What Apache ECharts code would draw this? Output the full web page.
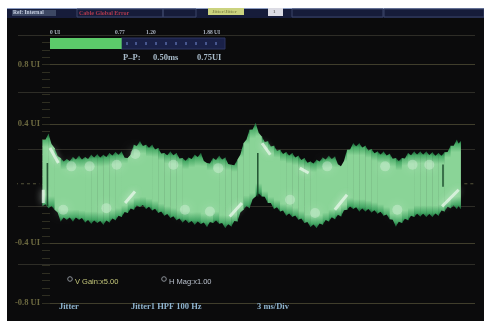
<!DOCTYPE html>
<html><head><meta charset="utf-8">
<style>html,body{margin:0;padding:0;background:#fff}#c{width:484px;height:321px;filter:blur(0.75px)}</style>
<script src="https://cdn.jsdelivr.net/npm/echarts@6/dist/echarts.min.js"></script>
</head><body><div id="c"></div>
<script>
const timeMs=[1.6,2.0,2.4,2.8,3.2,3.6,4.0,4.4,4.8,5.2,5.6,6.0,6.4,6.8,7.2,7.6,8.0,8.4,8.8,9.2,9.6,10.0,10.4,10.8,11.2,11.6,12.0,12.4,12.8,13.2,13.6,14.0,14.4,14.8,15.2,15.6,16.0,16.4,16.8,17.2,17.6,18.0,18.4,18.8,19.2,19.6,20.0,20.4,20.8,21.2,21.6,22.0,22.4,22.8,23.2,23.6,24.0,24.4,24.8,25.2,25.6,26.0,26.4,26.8,27.2,27.6,28.0,28.4,28.8,29.05];
const upperUI=[.296,.336,.24,.173,.166,.179,.188,.179,.195,.199,.195,.206,.213,.217,.173,.262,.285,.262,.262,.24,.206,.217,.206,.173,.177,.195,.206,.139,.173,.188,.177,.128,.161,.273,.363,.408,.318,.285,.255,.229,.213,.206,.188,.173,.15,.161,.177,.188,.184,.117,.229,.273,.273,.255,.233,.217,.217,.202,.173,.173,.206,.217,.217,.217,.211,.206,.211,.255,.296,.285];
const lowerUI=[-.152,-.164,-.175,-.253,-.242,-.253,-.242,-.26,-.269,-.264,-.276,-.26,-.246,-.224,-.197,-.175,-.157,-.17,-.179,-.197,-.215,-.231,-.246,-.26,-.264,-.276,-.271,-.291,-.264,-.269,-.298,-.287,-.253,-.175,-.164,-.085,-.085,-.13,-.17,-.186,-.215,-.224,-.242,-.264,-.291,-.298,-.276,-.253,-.238,-.22,-.175,-.17,-.186,-.186,-.193,-.202,-.215,-.238,-.287,-.264,-.246,-.224,-.22,-.224,-.224,-.215,-.186,-.164,-.17,-.17];
const brightStreaks=[[1.66,-.04],[1.66,-.13],null,[2.1,.24],[2.65,.139],null,[7.03,-.13],[7.68,-.052],null,[13.9,-.22],[14.7,-.13],null,[16.02,.273],[16.56,.195],null,[18.5,.105],[19.08,.072],null,[20.8,-.175],[21.6,-.074],null,[27.84,-.152],[28.93,-.04]];
const softPatches=[[2.97,-.175],[5.8,-.164],[10.96,-.175],[12.6,-.186],[3.5,.117],[4.7,.117],[6.48,.128],[10.2,.128],[13.15,.105],[7.7,.2],[17.86,-.108],[19.5,-.197],[20.3,.117],[24.1,.117],[24.9,-.175],[25.9,.128],[27,.128]];
const darkNotches=[[1.93,.139],[1.93,-.15],null,[15.74,.206],[15.74,-.085],null,[27.9,.13],[27.9,-.02]];
const zeroDashes=[[-0.2,0],[1.4,0],null,[29.3,0],[30.9,0]];
const labelledTicks=[-0.8,-0.4,0.4,0.8];
const meterValue=[0.77];
const meterMax=1.88;
const meterLabels=[['0 UI',50],['0.77',115],['1.20',146],['1.88 UI',203]];
const readouts=[['P–P:',123],['0.50ms',153],['0.75UI',197]];
const footer=[['Jitter',59],['Jitter1 HPF 100 Hz',131],['3 ms/Div',257]];

const serif='"Liberation Serif",serif', sans='"Liberation Sans",sans-serif';
const txt=(x,y,text,fill,size,font,weight)=>({type:'text',x,y,z:50,style:{text,fill,fontSize:size,fontFamily:font||serif,fontWeight:weight||'bold',textVerticalAlign:'middle'}});
const rect=(x,y,w,h,fill,z,stroke)=>({type:'rect',z:z===undefined?-10:z,shape:{x,y,width:w,height:h},style:{fill,stroke:stroke||null,lineWidth:1}});
const ring=(x,y)=>({type:'circle',z:50,shape:{cx:x,cy:y,r:2.3},style:{fill:'none',stroke:'#8a8f96',lineWidth:1}});
const meterDots=[126,135,145,155,165,175,185,195,205,215];

const graphic=[
 rect(7,8,477,313,'#0b0b0c',-20),
 rect(7,8,477,10,'#161c3a',-10),
 rect(7,8,477,1,'#8c9cc0',-9),
 rect(12,10,44,6,'#3d4864',-9),
 rect(77,9,86,8,'none',-9,'#3a4468'),
 rect(163,9,33,8,'none',-9,'#3a4468'),
 rect(208,8,36,7,'#cbd37f',-8),
 rect(268,8,15,8,'#dcdce4',-8),
 rect(292,9,91,8,'none',-9,'#3a4468'),
 rect(384,9,100,8,'none',-9,'#3a4468'),
 txt(13,13,'Ref: Internal','#c6cfe2',5.5),
 txt(79,13,'Cable Global Error','#b03a4e',6),
 txt(212,12,'Jitter/Jitter','#8a8f50',5),
 txt(273,12,'1','#777',5),
 ...meterLabels.map(m=>txt(m[1],32.5,m[0],'#aeb6c4',5.5)),
 ...readouts.map(r=>txt(r[1],57.5,r[0],'#a9bccb',8.5)),
 ring(70,279),ring(164,279),
 txt(75,282,'V Gain:x5.00','#c4c77a',7.5,sans,'normal'),
 txt(169,282,'H Mag:x1.00','#b9c0cc',7.5,sans,'normal'),
 ...footer.map(f=>txt(f[1],307,f[0],'#8fb4cf',8.5)),
 rect(121,38,104,11,'#1a2148',-5,'#2c3560'),
 ...meterDots.map(x=>rect(x,42,2,3,'#47568e',-4))
];

const band=timeMs.map((t,i)=>[t,lowerUI[i],upperUI[i]]);
const fill=new echarts.graphic.LinearGradient(0,0,0,1,[
 {offset:0,color:'rgba(30,130,70,.7)'},{offset:.06,color:'#45a964'},{offset:.18,color:'#8ad497'},
 {offset:.82,color:'#8ad497'},{offset:.94,color:'#42a663'},{offset:1,color:'rgba(30,130,70,.7)'}]);
const hiddenX=(g,min,max)=>({type:'value',gridIndex:g,min,max,show:false});

const chart=echarts.init(document.getElementById('c'),null,{renderer:'canvas'});
chart.setOption({
 animation:false,backgroundColor:'#fff',graphic,
 grid:[
  {left:18,top:35,width:457,height:297.5},
  {left:43,top:35,width:432,height:267.75},
  {left:18,top:35,width:457,height:267.75},
  {left:50,top:38,width:175,height:11},
  {left:50,top:35,width:425,height:267.75}
 ],
 xAxis:[hiddenX(0,0,1),hiddenX(1,0,1),hiddenX(2,0,30),hiddenX(3,0,meterMax),hiddenX(4,0,1)],
 yAxis:[
  {type:'value',gridIndex:0,min:-1,max:1,interval:.4,axisLine:{show:false},axisTick:{show:false},axisLabel:{show:false},splitLine:{lineStyle:{color:'#2e2d27',width:1}}},
  {type:'value',gridIndex:1,min:-.8,max:1,axisLine:{show:false},
   axisTick:{show:false,customValues:labelledTicks},
   axisLabel:{customValues:labelledTicks,formatter:v=>v+' UI',margin:3,color:'#6d6a40',fontSize:8.5,fontFamily:serif,fontWeight:'bold'},
   splitLine:{lineStyle:{color:'#403e2c',width:1}}},
  {type:'value',gridIndex:2,min:-.8,max:1,show:false},
  {type:'category',gridIndex:3,data:['P-P'],show:false},
  {type:'value',gridIndex:4,min:-.8,max:1,interval:.05,axisLine:{show:false},axisLabel:{show:false},splitLine:{show:false},
   axisTick:{show:true,length:8,lineStyle:{color:'#2f2e22'}}}
 ],
 series:[
  {type:'bar',name:'P-P',xAxisIndex:3,yAxisIndex:3,data:meterValue,barWidth:11,itemStyle:{color:'#5ccb6a'},silent:true},
  {type:'line',name:'zero',xAxisIndex:2,yAxisIndex:2,data:zeroDashes,symbol:'none',lineStyle:{color:'#56543a',width:1,type:[3,3]},silent:true,z:1},
  {type:'custom',name:'Jitter',xAxisIndex:2,yAxisIndex:2,data:band,silent:true,z:3,
   renderItem(params,api){
    const next=band[params.dataIndex+1];
    if(!next) return null;
    const a=api.coord([api.value(0),api.value(2)]),b=api.coord([api.value(0),api.value(1)]);
    const c=api.coord([next[0],next[2]]),d=api.coord([next[0],next[1]]);
    const mx=(a[0]+c[0])/2,up=(a[1]+c[1])/2+3,lo=(b[1]+d[1])/2-3;
    return {type:'polygon',shape:{points:[a,[mx,up],c,[c[0]+.4,c[1]],[c[0]+.4,d[1]],d,[mx,lo],b]},style:{fill}};
   },encode:{x:0,y:[1,2]}},
  {type:'scatter',name:'soft',xAxisIndex:2,yAxisIndex:2,data:softPatches,symbolSize:10,silent:true,z:4,
   itemStyle:{color:'rgba(232,248,234,.42)',shadowBlur:9,shadowColor:'rgba(232,248,234,.75)'}},
  {type:'line',name:'streaks',xAxisIndex:2,yAxisIndex:2,data:brightStreaks,symbol:'none',connectNulls:false,silent:true,z:5,
   lineStyle:{color:'#eef9ef',width:3,opacity:.7,shadowBlur:7,shadowColor:'#e8f8ea'}},
  {type:'line',name:'notches',xAxisIndex:2,yAxisIndex:2,data:darkNotches,symbol:'none',connectNulls:false,silent:true,z:6,
   lineStyle:{color:'#0c3a1e',width:1.6,opacity:.8}}
 ]
});
</script></body></html>
